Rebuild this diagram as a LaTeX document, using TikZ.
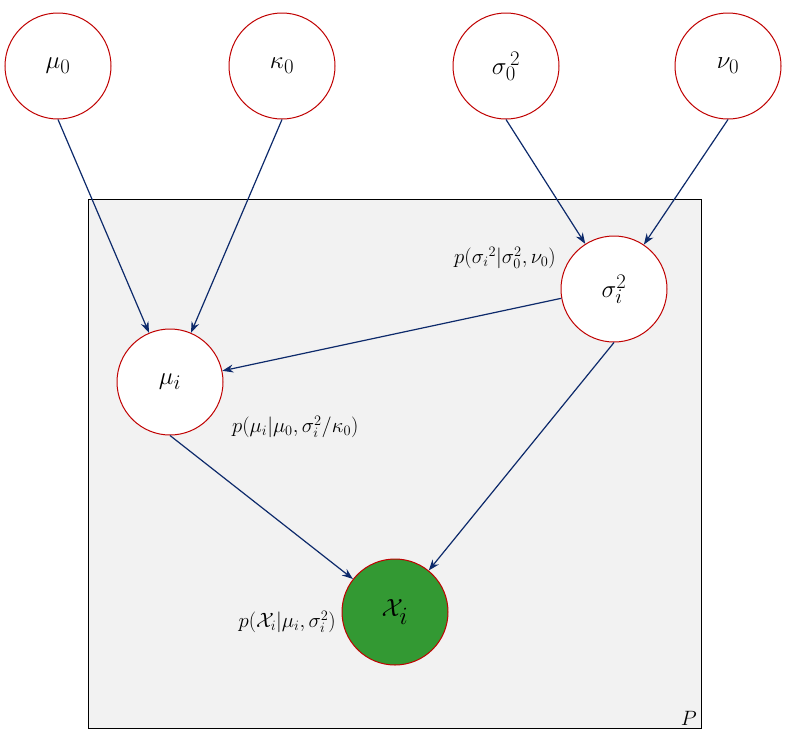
\documentclass[tikz,border=0pt]{standalone}
\usetikzlibrary{arrows.meta}
\definecolor{cred}{HTML}{C00000}
\definecolor{cnavy}{HTML}{0D2A6B}
\definecolor{cgreen}{HTML}{339933}
\definecolor{cbg}{HTML}{F2F2F2}
\begin{document}
\begin{tikzpicture}[x=1pt,y=-1pt,
  var/.style={circle,draw=cred,fill=white,line width=1pt,minimum size=106pt,inner sep=0pt,font=\fontsize{30}{34}\selectfont},
  lab/.style={font=\fontsize{22}{26}\selectfont,inner sep=0pt},
  edge/.style={cnavy,line width=1.2pt,-{Stealth[length=11pt,width=8pt]}}]
\useasboundingbox (0,0) rectangle (789,734);
\draw[fill=cbg,line width=1pt] (88,199) rectangle (701,728);
\node[lab,anchor=south east] (P) at (697,726) {$P$};
\node[var] (m0) at (58,66) {$\mu_0$};
\node[var] (k0) at (282,66) {$\kappa_0$};
\node[var] (s0) at (506,66) {$\sigma_0^{\,2}$};
\node[var] (n0) at (728,66) {$\nu_0$};
\node[var] (si) at (614,289) {$\sigma_i^2$};
\node[var] (mi) at (170,382) {$\mu_i$};
\node[var,fill=cgreen,font=\fontsize{40}{44}\selectfont] (xi) at (395,612) {$\mathcal{X}_i$};
\node[lab,anchor=east] (ls) at (556,258) {$p(\sigma_i{}^2|\sigma_0^2,\nu_0)$};
\node[lab,anchor=west] (lm) at (232,427) {$p(\mu_i|\mu_0,\sigma_i^2/\kappa_0)$};
\node[lab,anchor=east] (lx) at (336,622) {$p(\mathcal{X}_i|\mu_i,\sigma_i^2)$};
\draw[edge] (m0.south) -- (mi);
\draw[edge] (k0.south) -- (mi);
\draw[edge] (s0.south) -- (si);
\draw[edge] (n0.south) -- (si);
\draw[edge] (si.190) -- (mi);
\draw[edge] (mi.south) -- (xi);
\draw[edge] (si.south) -- (xi);
\end{tikzpicture}
\end{document}
